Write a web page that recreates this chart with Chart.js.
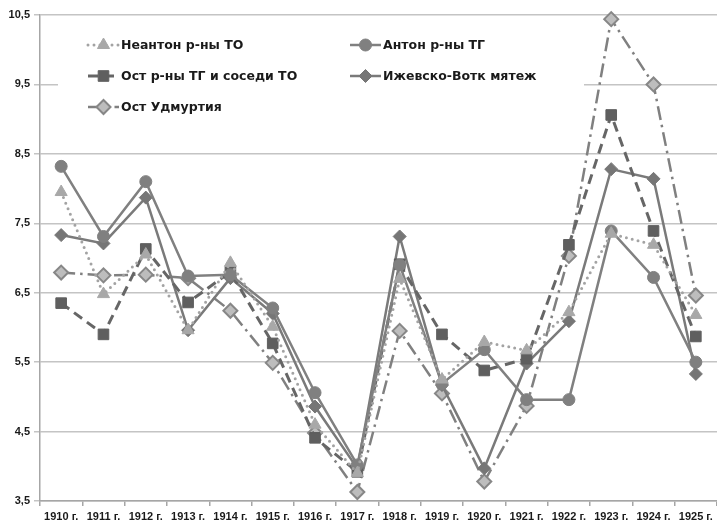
<!DOCTYPE html>
<html>
<head>
<meta charset="utf-8">
<script src="https://cdn.jsdelivr.net/npm/chart.js@4.4.1/dist/chart.umd.min.js"></script>
<style>
html,body{margin:0;padding:0;background:#fff;}
</style>
</head>
<body>
<canvas id="chart" width="717" height="527"></canvas>
<script>
// ===== データ =====
const years = ['1910 г.','1911 г.','1912 г.','1913 г.','1914 г.','1915 г.','1916 г.','1917 г.',
  '1918 г.','1919 г.','1920 г.','1921 г.','1922 г.','1923 г.','1924 г.','1925 г.'];
const neanton = [7.95, 6.48, 7.05, 5.96, 6.93, 6.01, 4.6, 3.9, 6.7, 5.25, 5.79, 5.67, 6.22, 7.35, 7.19, 6.18];
const anton   = [8.32, 7.31, 8.10, 6.74, 6.76, 6.28, 5.06, 4.02, 6.90, 5.19, 5.68, 4.96, 4.96, 7.39, 6.72, 5.50];
const ostTg   = [6.35, 5.90, 7.13, 6.36, 6.80, 5.77, 4.41, 3.92, 6.91, 5.90, 5.38, 5.55, 7.19, 9.06, 7.39, 5.87];
const izhevsk = [7.33, 7.21, 7.87, 5.96, 6.71, 6.20, 4.86, 3.97, 7.31, 5.17, 3.97, 5.48, 6.09, 8.28, 8.14, 5.33];
const udm     = [6.79, 6.75, 6.76, 6.71, 6.24, 5.49, 4.48, 3.63, 5.95, 5.05, 3.78, 4.87, 7.03, 10.44, 9.50, 6.46];
const yMin = 3.5, yMax = 10.5;

// ===== 凡例（2列、プロット内） =====
const legendBox = {
  id: 'legendBox',
  afterDatasetsDraw(chart){
    const ctx = chart.ctx;
    ctx.save();
    ctx.fillStyle = '#fff';
    ctx.fillRect(58, 24, 526, 100);
    const cols = [88, 350];
    const rows = [45, 76, 107];
    chart.data.datasets.forEach((ds, i)=>{
      const x = cols[i % 2], y = rows[Math.floor(i / 2)];
      ctx.strokeStyle = ds.borderColor;
      ctx.lineWidth = ds.borderWidth;
      ctx.setLineDash(ds.borderDash || []);
      ctx.lineCap = ds.borderCapStyle || 'butt';
      ctx.beginPath(); ctx.moveTo(x, y); ctx.lineTo(x + 31, y); ctx.stroke();
      ctx.setLineDash([]);
      ctx.lineCap = 'butt';
      ctx.fillStyle = ds.pointBackgroundColor;
      ctx.strokeStyle = ds.pointBorderColor;
      ctx.lineWidth = ds.pointBorderWidth;
      Chart.helpers.drawPoint(ctx, {pointStyle: ds.pointStyle, radius: ds.pointRadius, rotation: 0, borderWidth: ds.pointBorderWidth}, x + 15.5, y);
      ctx.fillStyle = '#1a1a1a';
      ctx.font = 'bold 12.5px "DejaVu Sans"';
      ctx.textBaseline = 'middle';
      ctx.fillText(ds.label, x + 33, y + 1);
    });
    ctx.restore();
  }
};

function series(label, data, o){
  return Object.assign({
    label, data,
    borderWidth: 2.5,
    pointBorderWidth: 1,
    pointHoverRadius: 0,
    tension: 0,
    fill: false,
    clip: false
  }, o);
}

new Chart(document.getElementById('chart').getContext('2d'), {
  type: 'line',
  data: {
    labels: years,
    datasets: [
      series('Неантон р-ны ТО', neanton, {
        borderColor:'#a3a3a3', borderWidth:3, borderDash:[0, 6], borderCapStyle:'round',
        pointStyle:'triangle', pointRadius:7, pointBackgroundColor:'#a8a8a8', pointBorderColor:'#a8a8a8'
      }),
      series('Антон р-ны ТГ', anton, {
        borderColor:'#808080',
        pointStyle:'circle', pointRadius:6, pointBackgroundColor:'#808080', pointBorderColor:'#808080'
      }),
      series('Ост р-ны ТГ и соседи ТО', ostTg, {
        borderColor:'#666666', borderWidth:3, borderDash:[10, 6],
        pointStyle:'rect', pointRadius:7.5, pointBackgroundColor:'#5f5f5f', pointBorderColor:'#5f5f5f'
      }),
      series('Ижевско-Вотк мятеж', izhevsk, {
        borderColor:'#7a7a7a',
        pointStyle:'rectRot', pointRadius:6.5, pointBackgroundColor:'#767676', pointBorderColor:'#767676'
      }),
      series('Ост Удмуртия', udm, {
        borderColor:'#808080', borderWidth:2.5, borderDash:[14, 5, 2.5, 5],
        pointStyle:'rectRot', pointRadius:7, pointBorderWidth:2, pointBackgroundColor:'#bdbdbd', pointBorderColor:'#878787'
      })
    ]
  },
  options: {
    responsive: false,
    animation: false,
    layout: { autoPadding: false, padding: { top: 15, right: 0, left: 0, bottom: 0 } },
    plugins: { legend: { display: false }, tooltip: { enabled: false } },
    scales: {
      x: {
        offset: true,
        afterFit: s => { s.height = 26; s.paddingRight = 0; s.paddingLeft = 0; },
        grid: { offset: true, drawOnChartArea: false, drawTicks: true, tickLength: 5, color: '#a6a6a6', lineWidth: 1.5 },
        border: { color: '#a6a6a6', width: 1.5 },
        ticks: { color: '#1a1a1a', font: { family: '"Liberation Sans", Arial, sans-serif', size: 11, weight: 'bold' }, padding: 4, maxRotation: 0, autoSkip: false }
      },
      y: {
        min: yMin, max: yMax,
        afterFit: s => { s.width = 40; },
        grid: { color: '#c4c4c4', lineWidth: 1.5, tickLength: 6 },
        border: { color: '#a6a6a6', width: 1.5 },
        ticks: {
          stepSize: 1, padding: 4, color: '#1a1a1a',
          font: { family: '"Liberation Sans", Arial, sans-serif', size: 11, weight: 'bold' },
          callback: v => v.toFixed(1).replace('.', ',')
        }
      }
    }
  },
  plugins: [legendBox]
});
</script>
</body>
</html>
